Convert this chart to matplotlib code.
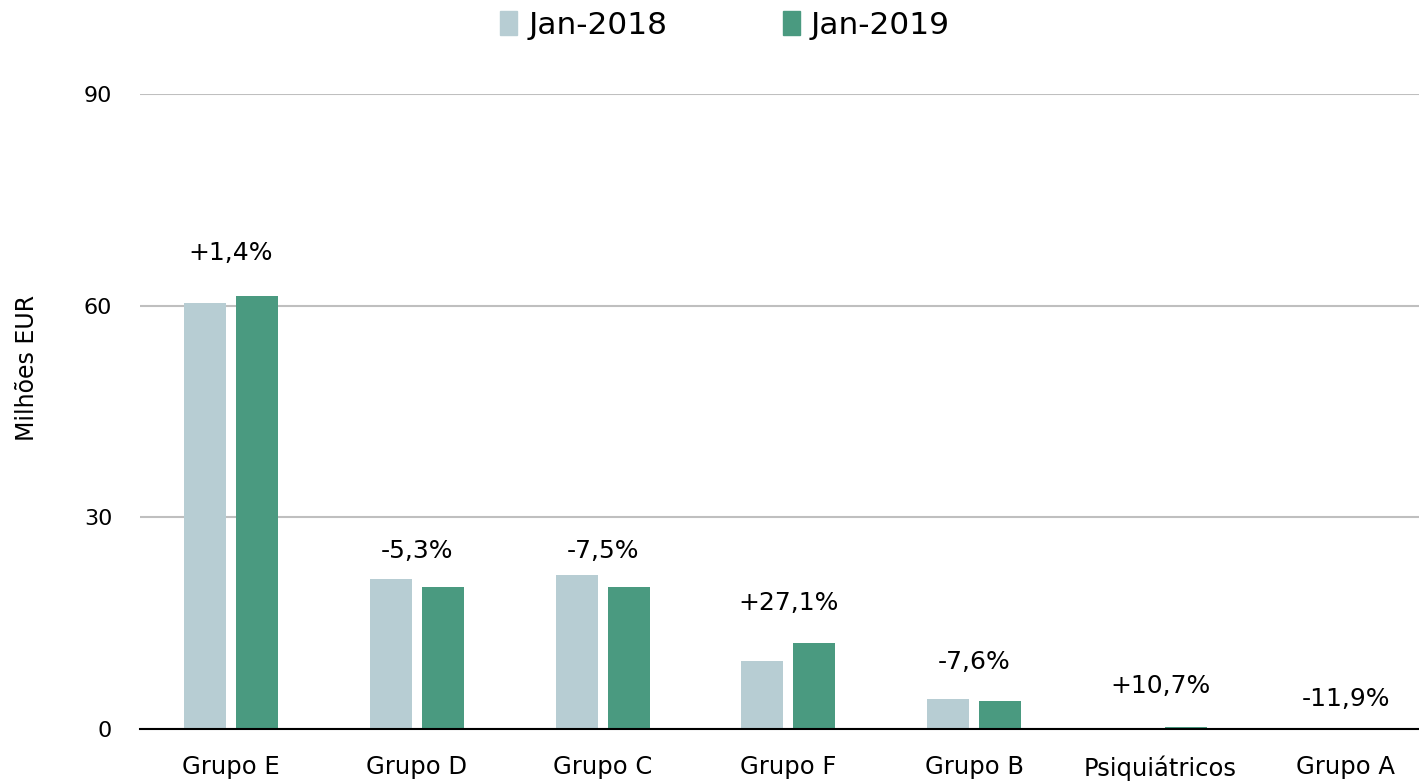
import numpy as np
from matplotlib import pyplot as plt
from matplotlib.patches import Patch

categories = ['Grupo E', 'Grupo D', 'Grupo C', 'Grupo F', 'Grupo B', 'Psiquiátricos', 'Grupo A']
jan2018 = [60.4, 21.3, 21.8, 9.6, 4.25, 0.2, 0.15]
jan2019 = [61.3, 20.1, 20.1, 12.2, 3.95, 0.22, 0.13]
changes = ['+1,4%', '-5,3%', '-7,5%', '+27,1%', '-7,6%', '+10,7%', '-11,9%']
label_y = [67.5, 25.2, 25.2, 17.9, 9.5, 6.1, 4.3]

color_light = '#B7CDD3'
color_green = '#4A9A80'

plt.rcParams['font.family'] = ['DejaVu Sans']

fig = plt.figure(figsize=(14.19, 7.82), dpi=100)
ax = fig.add_axes([140/1419, 1-729/782, 1-140/1419, (729-94)/782])

x = np.arange(len(categories))
w = 0.226
off = 0.14
ax.bar(x - off, jan2018, w, color=color_light, zorder=3)
ax.bar(x + off, jan2019, w, color=color_green, zorder=3)

for xi, t, yv in zip(x, changes, label_y):
    ax.text(xi, yv, t, ha='center', va='center', fontsize=18, color='black')

ax.set_xlim(-0.49, 6.394)
ax.set_ylim(0, 90)
ax.set_yticks([0, 30, 60, 90])
ax.set_xticks(x)
ax.set_xticklabels(categories, fontsize=17.5)
ax.tick_params(axis='y', length=0, labelsize=16, pad=20)
ax.tick_params(axis='x', length=0, pad=19)
ax.yaxis.grid(True, color='#BFBFBF', linewidth=1.5, zorder=0)
ax.set_axisbelow(True)
for sp in ['left', 'right', 'top']:
    ax.spines[sp].set_visible(False)
ax.spines['bottom'].set_color('black')
ax.spines['bottom'].set_linewidth(1.5)
ax.spines['bottom'].set_zorder(4)

fig.text(27/1419, 1-368/782, 'Milhões EUR', rotation=90, ha='center', va='center', fontsize=17)

handles = [Patch(color=color_light, label='Jan-2018'), Patch(color=color_green, label='Jan-2019')]
fig.legend(handles=handles, loc='center', bbox_to_anchor=(725/1419, 1-25/782), ncol=2,
           frameon=False, fontsize=22.5, handlelength=0.55, handleheight=0.8,
           handletextpad=0.35, columnspacing=3.7)

plt.savefig('out.png', dpi=100)
